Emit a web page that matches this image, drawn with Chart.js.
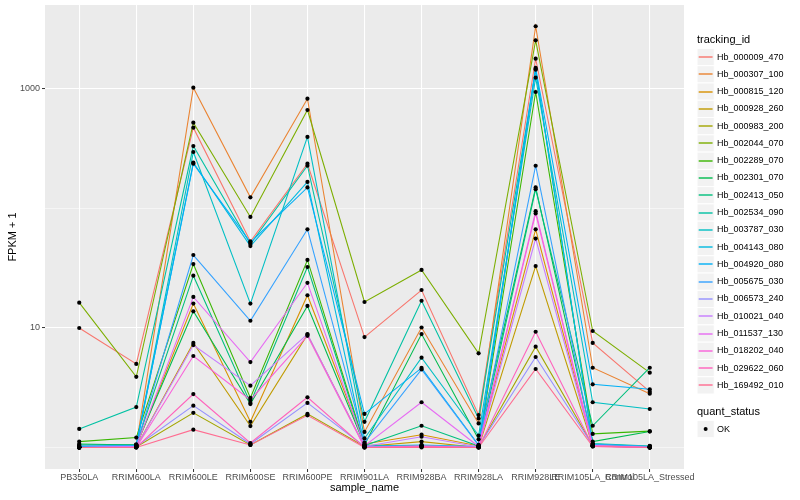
<!DOCTYPE html>
<html>
<head>
<meta charset="utf-8">
<script src="https://cdn.jsdelivr.net/npm/chart.js@4.4.1/dist/chart.umd.min.js"></script>
<style>
  html, body { margin: 0; padding: 0; background: #ffffff; }
  #wrap { width: 800px; height: 500px; }
</style>
</head>
<body>
<div id="wrap"><canvas id="chart" width="800" height="500"></canvas></div>
<script>
/* ===============================
   DATA
================================= */

const sampleNames = [
  "PB350LA", "RRIM600LA", "RRIM600LE", "RRIM600SE", "RRIM600PE", "RRIM901LA",
  "RRIM928BA", "RRIM928LA", "RRIM928LE", "RRIM105LA_Control", "RRIM105LA_Stressed"
];

const trackingIds = [
  "Hb_000009_470", "Hb_000307_100", "Hb_000815_120", "Hb_000928_260", "Hb_000983_200",
  "Hb_002044_070", "Hb_002289_070", "Hb_002301_070", "Hb_002413_050", "Hb_002534_090",
  "Hb_003787_030", "Hb_004143_080", "Hb_004920_080", "Hb_005675_030", "Hb_006573_240",
  "Hb_010021_040", "Hb_011537_130", "Hb_018202_040", "Hb_029622_060", "Hb_169492_010"
];

const seriesColors = [
  "#F8766D", "#EA8331", "#D89000", "#C09B00", "#A3A500",
  "#7CAE00", "#39B600", "#00BB4E", "#00BF7D", "#00C1A3",
  "#00BFC4", "#00BAE0", "#00B0F6", "#35A2FF", "#9590FF",
  "#C77CFF", "#E76BF3", "#FA62DB", "#FF62BC", "#FF6C91"
];

// FPKM + 1, one value per sample
const hb000009 = [10.0, 5.0, 475, 53, 237, 8.4, 20.8, 1.87, 1794, 7.5, 2.93];
const hb000307 = [1.0, 1.05, 1026, 124, 830, 1.35, 10.1, 1.59, 3350, 4.65, 2.82];
const hb000815 = [1.0, 1.02, 16.0, 1.64, 18.8, 1.07, 1.28, 1.03, 67, 1.05, 1.02];
const hb000928 = [1.0, 1.01, 7.5, 1.51, 8.8, 1.02, 1.12, 1.0, 33, 1.03, 1.0];
const hb000983 = [1.0, 1.01, 1.95, 1.05, 1.91, 1.02, 1.04, 1.01, 6.98, 1.04, 1.0];
const hb002044 = [16.3, 3.9, 523, 85, 667, 16.5, 30.6, 6.14, 2555, 9.44, 4.23];
const hb002289 = [1.12, 1.21, 34.3, 2.6, 37.1, 1.05, 1.02, 1.02, 944, 1.30, 1.37];
const hb002301 = [1.07, 1.05, 13.8, 2.31, 15.3, 1.05, 8.9, 1.17, 150, 1.12, 1.36];
const hb002413 = [1.05, 1.06, 27.4, 2.36, 32.4, 1.04, 1.52, 1.03, 145, 1.52, 4.65];
const hb002534 = [1.43, 2.18, 333, 50.5, 228, 1.64, 16.9, 1.75, 1450, 1.08, 1.03];
const hb003787 = [1.02, 1.04, 297, 16.0, 397, 1.19, 5.64, 1.26, 1244, 2.39, 2.1];
const hb004143 = [1.0, 1.03, 242, 48.5, 167, 1.03, 1.05, 1.02, 1470, 1.07, 1.02];
const hb004920 = [1.01, 1.04, 237, 52, 150, 1.91, 4.63, 1.05, 1500, 3.38, 3.07];
const hb005675 = [1.03, 1.04, 40.8, 11.5, 67, 1.1, 4.5, 1.04, 228, 1.06, 1.02];
const hb006573 = [1.0, 1.02, 2.24, 1.07, 2.36, 1.02, 1.03, 1.02, 5.72, 1.04, 1.0];
const hb010021 = [1.0, 1.01, 7.2, 3.29, 8.9, 1.02, 1.23, 1.01, 56, 1.03, 1.0];
const hb011537 = [1.0, 1.02, 18.2, 5.19, 23.9, 1.03, 2.39, 1.02, 95, 1.04, 1.0];
const hb018202 = [1.0, 1.0, 5.83, 2.5, 8.6, 1.0, 1.03, 1.0, 91, 1.02, 1.0];
const hb029622 = [1.0, 1.0, 2.80, 1.09, 2.63, 1.0, 1.02, 1.0, 9.3, 1.03, 1.0];
const hb169492 = [1.0, 1.0, 1.41, 1.05, 1.86, 1.0, 1.0, 1.0, 4.54, 1.02, 1.0];

const seriesValues = [
  hb000009, hb000307, hb000815, hb000928, hb000983,
  hb002044, hb002289, hb002301, hb002413, hb002534,
  hb003787, hb004143, hb004920, hb005675, hb006573,
  hb010021, hb011537, hb018202, hb029622, hb169492
];

const yGridValues = [1, 10, 100, 1000];
const yLabeledTicks = [10, 1000];

/* ===============================
   STYLE
================================= */

const FONT = "'Liberation Sans', Arial, Helvetica, sans-serif";
const PANEL_BG = "#EBEBEB";

const panelBackground = {
  id: "panelBackground",
  beforeDraw(chart) {
    const { ctx, chartArea } = chart;
    if (!chartArea) return;
    ctx.save();
    ctx.fillStyle = PANEL_BG;
    ctx.fillRect(chartArea.left, chartArea.top,
      chartArea.right - chartArea.left, chartArea.bottom - chartArea.top);
    ctx.restore();
  }
};

// ggplot-like legend: two guides stacked on the right
const ggLegend = {
  id: "ggLegend",
  afterDraw(chart) {
    const { ctx } = chart;
    const x0 = 697;
    const key = 17.28;
    ctx.save();
    ctx.textBaseline = "middle";
    ctx.textAlign = "left";

    ctx.fillStyle = "#000";
    ctx.font = "11px " + FONT;
    ctx.fillText("tracking_id", x0, 40);

    let top = 48.4;
    trackingIds.forEach((id, i) => {
      const mid = Math.round(top + key / 2);
      ctx.fillStyle = "#F2F2F2";
      ctx.fillRect(x0, top, key, key);
      ctx.strokeStyle = "#ffffff";
      ctx.lineWidth = 1;
      ctx.strokeRect(x0, top, key, key);
      ctx.fillStyle = seriesColors[i];
      ctx.fillRect(x0 + 1.7, mid - 0.7, key - 3.4, 1.4);
      ctx.fillStyle = "#000";
      ctx.font = "9px " + FONT;
      ctx.fillText(id, 717, top + key / 2);
      top += key;
    });

    ctx.font = "11px " + FONT;
    ctx.fillText("quant_status", x0, 412);
    const okTop = 420.4;
    ctx.fillStyle = "#F2F2F2";
    ctx.fillRect(x0, okTop, key, key);
    ctx.strokeStyle = "#ffffff";
    ctx.strokeRect(x0, okTop, key, key);
    ctx.fillStyle = "#000";
    ctx.beginPath();
    ctx.arc(x0 + key / 2, okTop + key / 2, 2, 0, Math.PI * 2);
    ctx.fill();
    ctx.font = "9px " + FONT;
    ctx.fillText("OK", 717, okTop + key / 2);
    ctx.restore();
  }
};

/* ===============================
   DATASETS
================================= */

const lineDatasets = trackingIds.map((id, i) => ({
  label: id,
  data: seriesValues[i].map((v, j) => ({ x: j, y: v })),
  borderColor: seriesColors[i],
  backgroundColor: seriesColors[i],
  borderWidth: 1.07,
  pointRadius: 0,
  tension: 0,
  fill: false,
  order: trackingIds.length - i
}));

const pointData = [];
seriesValues.forEach(vals => {
  vals.forEach((v, j) => pointData.push({ x: j, y: v }));
});

const pointDataset = {
  label: "quant_status OK",
  data: pointData,
  showLine: false,
  pointRadius: 2.1,
  pointBorderWidth: 0,
  pointBackgroundColor: "#000000",
  pointBorderColor: "#000000",
  order: 0
};

/* ===============================
   CHART
================================= */

new Chart(document.getElementById("chart"), {
  type: "line",
  data: { datasets: [...lineDatasets, pointDataset] },
  options: {
    responsive: false,
    animation: false,
    events: [],
    layout: { padding: { left: 0, right: 116, top: 5, bottom: 0 } },
    plugins: {
      legend: { display: false },
      tooltip: { enabled: false }
    },
    scales: {
      x: {
        type: "linear",
        min: -0.6,
        max: sampleNames.length - 1 + 0.6,
        afterBuildTicks(scale) {
          scale.ticks = sampleNames.map((_, i) => ({ value: i }));
        },
        afterFit(scale) {
          scale.height = 31;
          scale.paddingLeft = 0;
          scale.paddingRight = 0;
        },
        ticks: {
          autoSkip: false,
          maxRotation: 0,
          minRotation: 0,
          padding: 0,
          color: "#4D4D4D",
          font: { family: FONT, size: 9 },
          callback: v => sampleNames[v]
        },
        grid: {
          color: "#ffffff",
          lineWidth: 1.07,
          tickColor: "#333333",
          tickWidth: 1,
          tickLength: 3
        },
        border: { display: false },
        title: {
          display: true,
          text: "sample_name",
          color: "#000000",
          font: { family: FONT, size: 11 },
          padding: { top: 0, bottom: 5.4 }
        }
      },
      y: {
        type: "logarithmic",
        min: Math.pow(10, -0.18),
        max: Math.pow(10, 3.703),
        afterBuildTicks(scale) {
          scale.ticks = yGridValues.map(v => ({ value: v }));
        },
        afterFit(scale) {
          scale.width = 45;
          scale.paddingTop = 0;
          scale.paddingBottom = 0;
        },
        ticks: {
          autoSkip: false,
          padding: 2,
          color: "#4D4D4D",
          font: { family: FONT, size: 9 },
          callback: v => (yLabeledTicks.includes(v) ? String(v) : "")
        },
        grid: {
          color: "#ffffff",
          lineWidth: c => (c.tick && yLabeledTicks.includes(c.tick.value) ? 1.07 : 0.53),
          tickColor: c => (c.tick && yLabeledTicks.includes(c.tick.value) ? "#333333" : "rgba(0,0,0,0)"),
          tickWidth: 1,
          tickLength: 3
        },
        border: { display: false },
        title: {
          display: true,
          text: "FPKM + 1",
          color: "#000000",
          font: { family: FONT, size: 11 },
          padding: { top: 6, bottom: 0 }
        }
      }
    }
  },
  plugins: [panelBackground, ggLegend]
});
</script>
</body>
</html>
